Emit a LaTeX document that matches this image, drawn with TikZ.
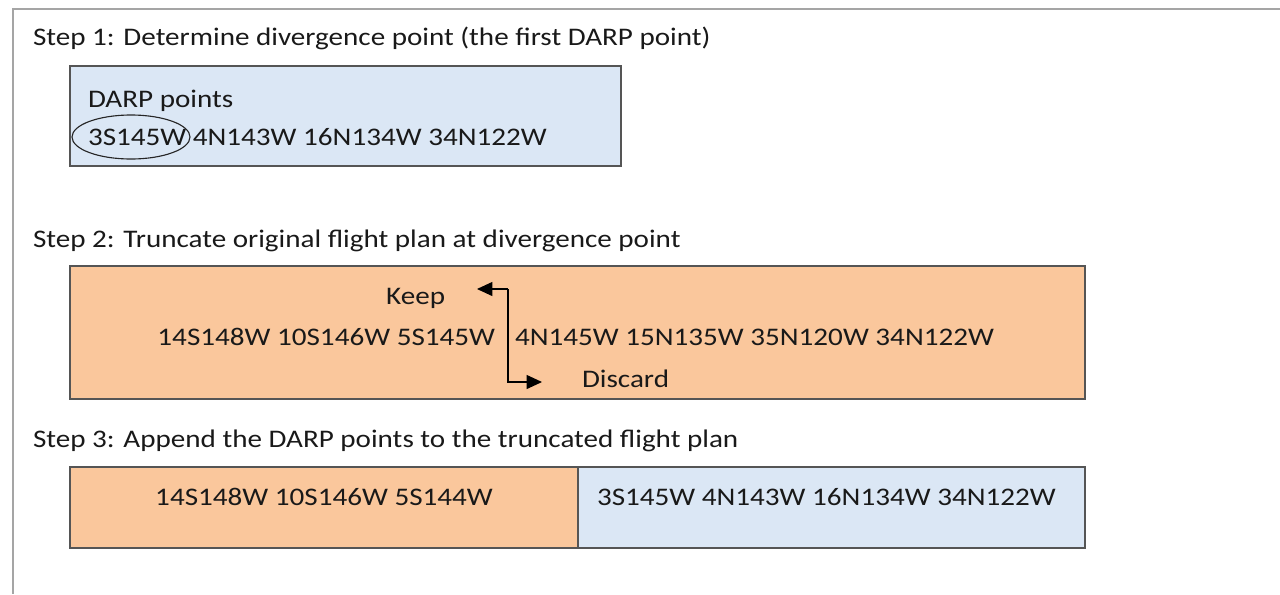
\documentclass[tikz,border=0pt]{standalone}
\usepackage{fontspec}
\setmainfont[FakeStretch=1.15]{Carlito}
\usepackage[rgb]{xcolor}
\usepackage{tikz}
\usetikzlibrary{shapes.geometric,arrows.meta}

\definecolor{planorange}{RGB}{250,199,156}
\definecolor{darpblue}{RGB}{219,231,245}
\definecolor{framegray}{RGB}{165,165,165}
\definecolor{boxgray}{RGB}{85,85,85}

\tikzset{
  txt/.style={inner sep=0, outer sep=0, font=\fontsize{18}{22}\selectfont, text=black!90},
  stepbox/.style={draw=boxgray, line width=0.9pt},
  tip/.style={-{Triangle[length=11pt, width=10pt]}, line width=0.8pt}
}

\begin{document}
\begin{tikzpicture}[x=0.025cm, y=-0.025cm]
    \useasboundingbox (0,0) rectangle (1280,594);
    % rahmen
    \draw[framegray, line width=1pt] (1280,9) -- (13,9) -- (13,594);
    % stap 1
    \node[txt, anchor=base west] (s1) at (33,45) {Step 1: Determine divergence point (the first DARP point)};
    \draw[stepbox, fill=darpblue] (70,66) rectangle (621,166);
    \node[txt, anchor=base west] (darp) at (88,107) {DARP points};
    \node[txt, anchor=base west] (darprow) at (88,145) {3S145W 4N143W 16N134W 34N122W};
    \node[draw=black!85, line width=0.8pt, ellipse, minimum width=118*0.025cm, minimum height=44*0.025cm, inner sep=0] (first) at (131,137) {};
    % stap 2
    \node[txt, anchor=base west] (s2) at (33,247) {Step 2: Truncate original flight plan at divergence point};
    \draw[stepbox, fill=planorange] (70,266) rectangle (1085,399);
    \node[txt, anchor=base east] (keeprow) at (495,345) {14S148W 10S146W 5S145W};
    \node[txt, anchor=base west] (droprow) at (515,345) {4N145W 15N135W 35N120W 34N122W};
    \node[txt, anchor=base east] (keep) at (445,304) {Keep};
    \node[txt, anchor=base west] (discard) at (582,387) {Discard};
    \coordinate (cuttop) at (508,289);
    \coordinate (cutbot) at (508,382);
    \coordinate (keeptip) at (477,289);
    \coordinate (droptip) at (542,382);
    \draw[tip] (cuttop) -- (keeptip);
    \draw[tip] (cuttop) -- (cutbot) -- (droptip);
    % stap 3
    \node[txt, anchor=base west] (s3) at (33,447) {Step 3: Append the DARP points to the truncated flight plan};
    \draw[stepbox, fill=planorange] (70,467) rectangle (578,548);
    \draw[stepbox, fill=darpblue] (578,467) rectangle (1085,548);
    \node[txt, anchor=base] (oldrow) at (324,505) {14S148W 10S146W 5S144W};
    \node[txt, anchor=base west] (newrow) at (597,505) {3S145W 4N143W 16N134W 34N122W};
\end{tikzpicture}
\end{document}
